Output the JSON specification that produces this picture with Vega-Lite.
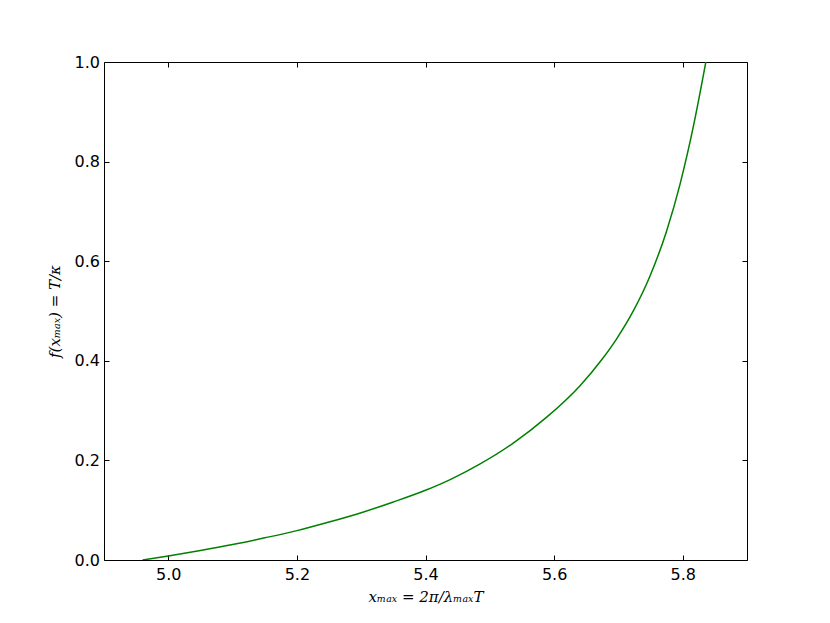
{
  "$schema": "https://vega.github.io/schema/vega-lite/v6.json",
  "width": 643,
  "height": 498,
  "autosize": "none",
  "padding": {"left": 104, "top": 62, "right": 83, "bottom": 63},
  "background": "white",
  "config": {
    "view": {"stroke": null},
    "axis": {
      "domain": true,
      "domainColor": "#000000",
      "domainWidth": 1,
      "grid": false,
      "tickColor": "#000000",
      "tickWidth": 1,
      "tickSize": -5,
      "labelFont": "DejaVu Sans",
      "labelFontSize": 16,
      "labelColor": "#000000",
      "titleFont": "DejaVu Serif",
      "titleFontStyle": "italic",
      "titleFontWeight": "normal",
      "titleFontSize": 15,
      "titleColor": "#000000"
    }
  },
  "data": {
    "values": [
      {"x": 4.96, "f": 0.0},
      {"x": 5.0, "f": 0.008},
      {"x": 5.05, "f": 0.019},
      {"x": 5.1, "f": 0.031},
      {"x": 5.15, "f": 0.0445},
      {"x": 5.2, "f": 0.059},
      {"x": 5.25, "f": 0.0762},
      {"x": 5.3, "f": 0.095},
      {"x": 5.35, "f": 0.1165},
      {"x": 5.4, "f": 0.14},
      {"x": 5.44, "f": 0.1625},
      {"x": 5.485, "f": 0.193},
      {"x": 5.5365, "f": 0.2348},
      {"x": 5.5885, "f": 0.2868},
      {"x": 5.64, "f": 0.3496},
      {"x": 5.6755, "f": 0.4046},
      {"x": 5.697, "f": 0.4437},
      {"x": 5.723, "f": 0.4996},
      {"x": 5.749, "f": 0.5698},
      {"x": 5.775, "f": 0.6608},
      {"x": 5.796, "f": 0.7553},
      {"x": 5.8165, "f": 0.8701},
      {"x": 5.836, "f": 1.0}
    ]
  },
  "layer": [
    {
      "mark": {"type": "line", "color": "#008000", "strokeWidth": 1.5, "interpolate": "monotone", "clip": true},
      "encoding": {
        "x": {
          "field": "x",
          "type": "quantitative",
          "scale": {"domain": [4.9, 5.9], "nice": false, "zero": false},
          "axis": {
            "orient": "bottom",
            "values": [5.0, 5.2, 5.4, 5.6, 5.8],
            "format": ".1f",
            "labelPadding": 11.5,
            "title": "xₘₐₓ = 2π/λₘₐₓT",
            "titlePadding": 7
          }
        },
        "y": {
          "field": "f",
          "type": "quantitative",
          "scale": {"domain": [0, 1], "nice": false},
          "axis": {
            "orient": "left",
            "values": [0, 0.2, 0.4, 0.6, 0.8, 1.0],
            "format": ".1f",
            "labelPadding": 9.5,
            "title": "f(xₘₐₓ) = T/κ",
            "titlePadding": 12
          }
        }
      }
    },
    {
      "mark": {"type": "line", "opacity": 0},
      "encoding": {
        "x": {
          "field": "x",
          "type": "quantitative",
          "scale": {"domain": [4.9, 5.9], "nice": false, "zero": false},
          "axis": {"orient": "top", "values": [5.0, 5.2, 5.4, 5.6, 5.8], "labels": false, "title": null}
        },
        "y": {
          "field": "f",
          "type": "quantitative",
          "scale": {"domain": [0, 1], "nice": false},
          "axis": {"orient": "right", "values": [0, 0.2, 0.4, 0.6, 0.8, 1.0], "labels": false, "title": null}
        }
      }
    }
  ],
  "resolve": {"axis": {"x": "independent", "y": "independent"}}
}
